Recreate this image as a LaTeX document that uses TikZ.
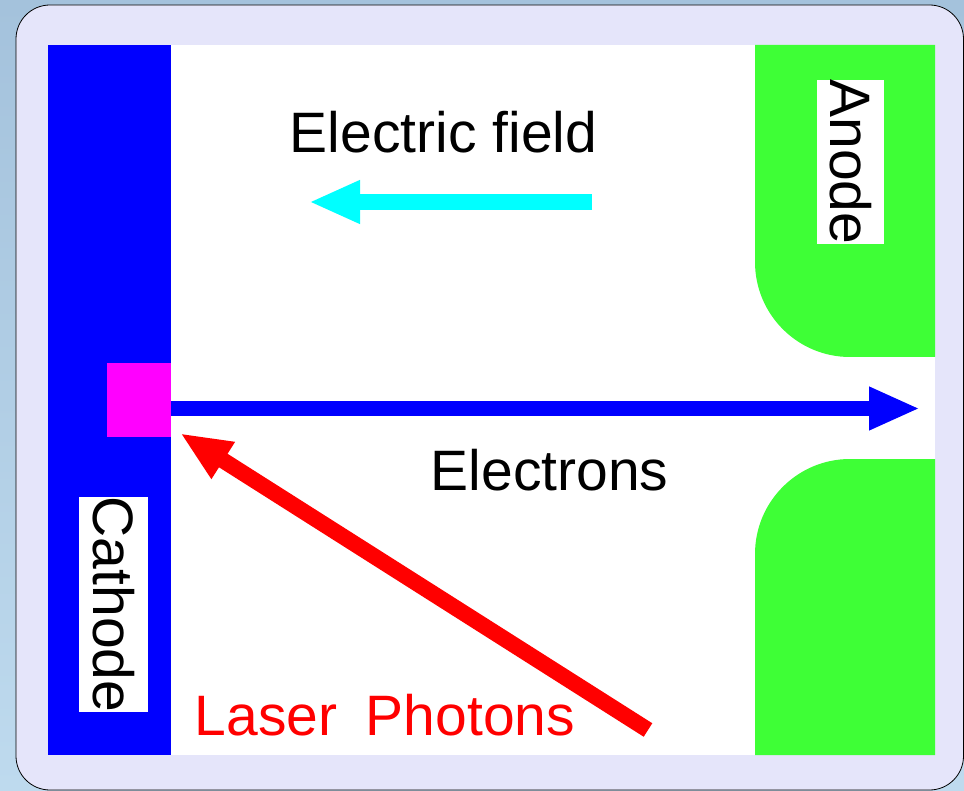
\documentclass[tikz,border=0pt]{standalone}
\usepackage{fontspec}
\setmainfont{Liberation Sans}
\usetikzlibrary{positioning,arrows.meta}

\definecolor{framebg}{RGB}{229,229,250}
\definecolor{anodegreen}{RGB}{62,255,54}
\definecolor{skytop}{RGB}{164,194,220}
\definecolor{skybot}{RGB}{190,218,238}
\definecolor{fieldcyan}{RGB}{0,255,255}
\definecolor{spotpink}{RGB}{255,0,255}
\definecolor{puredblue}{RGB}{0,0,255}
\definecolor{purered}{RGB}{255,0,0}

\begin{document}
\begin{tikzpicture}[x=1pt, y=-1pt, font=\fontsize{57}{60}\selectfont,
    labelbox/.style={fill=white, rotate=-90, inner xsep=0pt, inner ysep=14pt,
                     text height=41pt, text depth=0pt},
    fatarrow/.style={line width=#1, -{Triangle[length=51pt, width=40pt]}}]
    \useasboundingbox (0,0) rectangle (964,791);
    % slide background and frame
    \shade[top color=skytop, bottom color=skybot] (0,0) rectangle (964,791);
    \draw[fill=framebg, line width=0.8pt, rounded corners=34pt] (16,5) rectangle (963.5,790);
    \fill[white] (48,45) rectangle (935,755);

    % electrodes
    \node[fill=puredblue, inner sep=0pt, minimum width=123pt, minimum height=710pt] (cathode) at (109.5,400) {};
    \fill[anodegreen] (935,45) -- (755,45) [rounded corners=95pt] -- (755,357) [sharp corners] -- (935,357) -- cycle;
    \fill[anodegreen] (935,755) -- (755,755) [rounded corners=95pt] -- (755,459) [sharp corners] -- (935,459) -- cycle;
    \node[fill=spotpink, inner sep=0pt, minimum width=64pt, minimum height=74pt] (spot) at (139,400) {};

    % arrows
    \coordinate (beamtip) at (920,408.5);
    \coordinate (fieldstart) at (592,202);
    \coordinate (fieldtip) at (309,202);
    \coordinate (lasertail) at (648,730);
    \draw[fatarrow=15pt, puredblue] (spot.east |- beamtip) -- (beamtip);
    \draw[fatarrow=16pt, fieldcyan] (fieldstart) -- (fieldtip);
    \draw[fatarrow=16pt, purered] (lasertail) -- ([shift={(9,-4)}]spot.south east);

    % labels
    \node[anchor=base, inner sep=0pt] (fieldlab) at (443.5,153) {Electric field};
    \node[anchor=base, inner sep=0pt] (electronlab) at (549.5,490) {Electrons};
    \node[anchor=base, inner sep=0pt, text=purered] (laserlab) at (385,735) {Laser\hspace{0.5em}Photons};
    \node[labelbox] (cathodelab) at (113.5,604.5) {Cathode};
    \node[labelbox, inner ysep=13pt] (anodelab) at (850.5,162) {Anode};
\end{tikzpicture}
\end{document}
